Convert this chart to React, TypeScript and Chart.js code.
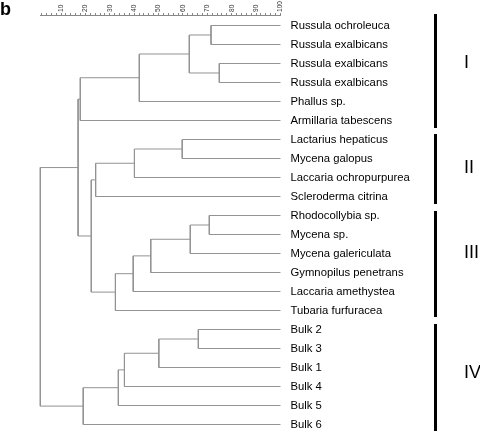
import React, { useEffect, useRef } from 'react';
import { Chart, registerables } from 'chart.js';

Chart.register(...registerables);

// ---- data ----
const leafLabels = [
  'Russula ochroleuca',
  'Russula exalbicans',
  'Russula exalbicans',
  'Russula exalbicans',
  'Phallus sp.',
  'Armillaria tabescens',
  'Lactarius hepaticus',
  'Mycena galopus',
  'Laccaria ochropurpurea',
  'Scleroderma citrina',
  'Rhodocollybia sp.',
  'Mycena sp.',
  'Mycena galericulata',
  'Gymnopilus penetrans',
  'Laccaria amethystea',
  'Tubaria furfuracea',
  'Bulk 2',
  'Bulk 3',
  'Bulk 1',
  'Bulk 4',
  'Bulk 5',
  'Bulk 6',
];

// merges (linkage): node index >= 22 refers to earlier merge (22 + k)
const mergeLeft = [0, 2, 22, 24, 25, 6, 27, 28, 10, 30, 31, 32, 33, 29, 26, 16, 37, 38, 39, 40, 36];
const mergeRight = [1, 3, 23, 4, 5, 7, 8, 9, 11, 12, 13, 14, 15, 34, 35, 17, 18, 19, 20, 21, 41];
const mergeSimilarity = [71.5, 74.9, 62.6, 42.1, 17.9, 59.7, 40.1, 24.2, 70.8, 63.0, 46.8, 39.6, 32.3, 22.4, 17.0, 66.3, 50.1, 36.0, 33.5, 19.1, 1.5];
const leafSimilarity = 100;

const groupNames = ['I', 'II', 'III', 'IV'];
const groupFirst = [0, 6, 10, 16];
const groupLast = [5, 9, 15, 21];

const axisLabelValues = [10, 20, 30, 40, 50, 60, 70, 80, 90, 100];
const axisMinorStep = 2;

// ---- styles ----
const FONT = '"Liberation Sans", Arial, Helvetica, sans-serif';
const LINE_COLOR = '#939393';
const barPadTop = [-2, 4, 5, 4];
const barPadBottom = [2, 2, 3, 0];
const numeralOffset = [-0.5, 0, -0.5, -0.2];

function buildDatasets() {
  const nodeX: number[] = leafLabels.map(() => leafSimilarity);
  const nodeY: number[] = leafLabels.map((_, i) => i);
  const datasets: any[] = [];
  mergeSimilarity.forEach((h, k) => {
    const a = mergeLeft[k];
    const b = mergeRight[k];
    datasets.push({
      data: [
        { x: nodeX[a], y: nodeY[a] },
        { x: h, y: nodeY[a] },
        { x: h, y: nodeY[b] },
        { x: nodeX[b], y: nodeY[b] },
      ],
      showLine: true,
      borderColor: LINE_COLOR,
      borderWidth: 1,
      pointRadius: 0,
      pointHoverRadius: 0,
      tension: 0,
      fill: false,
      clip: false,
    });
    nodeX.push(h);
    nodeY.push((nodeY[a] + nodeY[b]) / 2);
  });
  return datasets;
}

const groupsPlugin = {
  id: 'groupsPlugin',
  afterDraw(chart: any) {
    const { ctx } = chart;
    const y = chart.scales.y;
    ctx.save();
    // panel letter
    ctx.fillStyle = '#000';
    ctx.font = `bold 18px ${FONT}`;
    ctx.textAlign = 'left';
    ctx.textBaseline = 'alphabetic';
    ctx.fillText('b', 0, 15);
    groupNames.forEach((name, i) => {
      const top = y.getPixelForValue(groupFirst[i] - 0.5) + barPadTop[i];
      const bottom = y.getPixelForValue(groupLast[i] + 0.5) - barPadBottom[i];
      ctx.fillStyle = '#000';
      ctx.fillRect(434, top, 3, bottom - top);
      const mid = (groupFirst[i] + groupLast[i]) / 2 + numeralOffset[i];
      ctx.font = `18px ${FONT}`;
      ctx.textBaseline = 'middle';
      ctx.textAlign = 'left';
      ctx.fillText(name, 464, y.getPixelForValue(mid));
    });
    ctx.restore();
  },
};

export default function App() {
  const ref = useRef<HTMLCanvasElement | null>(null);

  useEffect(() => {
    document.body.style.margin = '0';
    const canvas = ref.current;
    if (!canvas) return;
    const minSim = Math.min(...mergeSimilarity);
    const chart = new Chart(canvas, {
      type: 'scatter',
      data: { datasets: buildDatasets() },
      options: {
        animation: false,
        responsive: false,
        events: [],
        layout: { padding: { left: 40.3, right: 0, top: 0, bottom: 0 } },
        plugins: {
          legend: { display: false },
          tooltip: { enabled: false },
          title: { display: false },
        },
        scales: {
          x: {
            type: 'linear',
            position: 'top',
            min: minSim,
            max: leafSimilarity,
            afterBuildTicks: (scale: any) => {
              const ticks = [];
              for (let v = axisMinorStep; v <= leafSimilarity; v += axisMinorStep) ticks.push({ value: v });
              scale.ticks = ticks;
            },
            afterFit: (scale: any) => {
              scale.height = 15;
              scale.paddingLeft = 0;
              scale.paddingRight = 0;
              scale.paddingTop = 0;
              scale.paddingBottom = 0;
            },
            grid: {
              drawOnChartArea: false,
              drawTicks: true,
              tickLength: 2,
              color: '#888',
              lineWidth: 1,
            },
            border: { display: true, color: '#888', width: 1 },
            ticks: {
              autoSkip: false,
              minRotation: 90,
              maxRotation: 90,
              padding: 1,
              labelOffset: 8,
              color: '#333',
              font: { family: FONT, size: 6.6 },
              callback: (value: any) => (axisLabelValues.includes(Number(value)) ? String(value) : ''),
            },
          },
          y: {
            type: 'linear',
            position: 'right',
            reverse: true,
            min: -0.5526,
            max: 21.342,
            afterBuildTicks: (scale: any) => {
              scale.ticks = leafLabels.map((_, i) => ({ value: i }));
            },
            afterFit: (scale: any) => {
              scale.width = 199.5;
              scale.paddingTop = 0;
              scale.paddingBottom = 0;
              scale.paddingLeft = 0;
              scale.paddingRight = 0;
            },
            grid: { display: false, drawTicks: false },
            border: { display: false },
            ticks: {
              autoSkip: false,
              padding: 10,
              color: '#000',
              font: { family: FONT, size: 11.3 },
              callback: (value: any) => leafLabels[Number(value)] ?? '',
            },
          },
        },
      },
      plugins: [groupsPlugin],
    });
    return () => chart.destroy();
  }, []);

  return (
    <div style={{ position: 'absolute', left: 0, top: 0, width: 480, height: 431 }}>
      <canvas ref={ref} width={480} height={431} style={{ display: 'block', width: 480, height: 431 }} />
    </div>
  );
}
